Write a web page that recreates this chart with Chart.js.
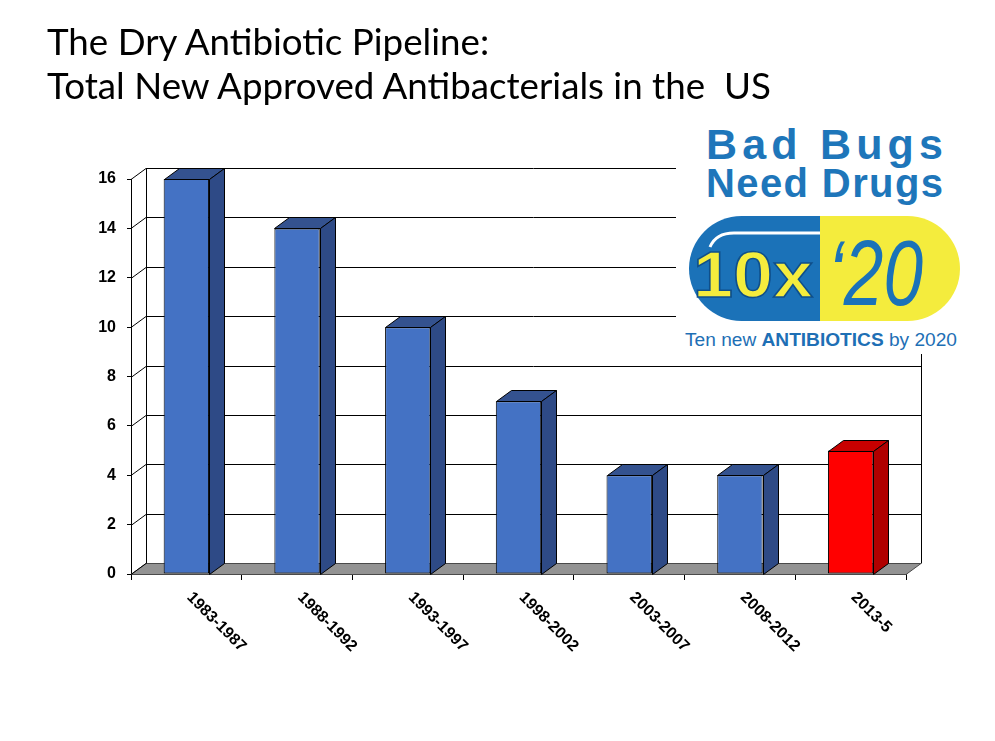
<!DOCTYPE html>
<html>
<head>
<meta charset="utf-8">
<script src="https://cdn.jsdelivr.net/npm/chart.js@4.4.1/dist/chart.umd.min.js"></script>
<style>
html, body { margin: 0; padding: 0; background: #fff; }
#wrap { position: relative; width: 995px; height: 741px; overflow: hidden; }
#chart { position: absolute; left: 0; top: 0; }
.title { position: absolute; left: 47px; font-family: Lato, sans-serif; font-weight: 400; line-height: 1; color: #000; white-space: pre; }
#logo { position: absolute; left: 676px; top: 118px; }
</style>
</head>
<body>
<div id="wrap">
  <canvas id="chart" width="995" height="741"></canvas>
  <div class="title" id="t1">The Dry Antibiotic Pipeline:</div>
  <div class="title" id="t2">Total New Approved Antibacterials in the  US</div>
  <svg id="logo" width="290" height="236" viewBox="0 0 290 236">
    <defs>
      <clipPath id="pill"><rect x="13" y="98" width="271" height="105" rx="52.5" ry="52.5"/></clipPath>
    </defs>
    <rect x="0" y="0" width="290" height="236" fill="#fff"/>
    <text x="30" y="41" textLength="237" lengthAdjust="spacing" font-family="Liberation Sans" font-weight="bold" font-size="43" fill="#1e76ba">Bad Bugs</text>
    <text x="30" y="79" textLength="237" lengthAdjust="spacing" font-family="Liberation Sans" font-weight="bold" font-size="40" fill="#1e76ba">Need Drugs</text>
    <g clip-path="url(#pill)">
      <rect x="13" y="98" width="131" height="105" fill="#1b72b8"/>
      <rect x="144" y="98" width="140" height="105" fill="#f4ec3d"/>
    </g>
    <path d="M34 129 Q40 115 58 115 L144 115" fill="none" stroke="#fff" stroke-width="3"/>
    <text x="17" y="179" textLength="120" lengthAdjust="spacingAndGlyphs" font-family="Liberation Sans" font-weight="bold" font-size="64" fill="#f4ec3d" stroke="#0f4f8a" stroke-width="1.5">10x</text>
    <text x="152" y="187" textLength="95" lengthAdjust="spacingAndGlyphs" font-family="Liberation Sans" font-style="italic" font-size="92" fill="#1b72b8">‘20</text>
    <text x="9" y="228" textLength="272" lengthAdjust="spacingAndGlyphs" font-family="Liberation Sans" font-size="18" fill="#1e6fb5">Ten new <tspan font-weight="bold">ANTIBIOTICS</tspan> by 2020</text>
  </svg>
</div>
<script>
// --- DATA ---
const categories = ['1983-1987', '1988-1992', '1993-1997', '1998-2002', '2003-2007', '2008-2012', '2013-5'];
const approvals = [16, 14, 10, 7, 4, 4, 5];
const yTicks = [0, 2, 4, 6, 8, 10, 12, 14, 16];
const highlightIndex = 6; // last period is shown in red

// --- TITLE (fit Lato to the original width) ---
(function fitTitle() {
    const t1 = document.getElementById('t1');
    const t2 = document.getElementById('t2');
    let fs = 39;
    t1.style.fontSize = t2.style.fontSize = fs + 'px';
    const w = t2.getBoundingClientRect().width;
    fs = fs * 724 / w;
    t1.style.fontSize = t2.style.fontSize = fs + 'px';
    t1.style.top = (56 - 0.887 * fs) + 'px';
    t2.style.top = (100 - 0.887 * fs) + 'px';
})();

// --- 3D LOOK ---
const DX = 15, DY = -11;
const front = approvals.map((v, i) => i === highlightIndex ? '#ff0000' : '#4472c4');
const sideCol = approvals.map((v, i) => i === highlightIndex ? '#b00000' : '#2e4a86');
const topCol = approvals.map((v, i) => i === highlightIndex ? '#c80000' : '#34528f');

function poly(ctx, pts, fill, stroke) {
    ctx.beginPath();
    ctx.moveTo(pts[0][0], pts[0][1]);
    for (let i = 1; i < pts.length; i++) ctx.lineTo(pts[i][0], pts[i][1]);
    ctx.closePath();
    if (fill) { ctx.fillStyle = fill; ctx.fill(); }
    if (stroke) { ctx.strokeStyle = stroke; ctx.lineWidth = 1; ctx.stroke(); }
}

const wallPlugin = {
    id: 'walls',
    beforeDatasetsDraw(chart) {
        const ctx = chart.ctx;
        const area = chart.chartArea;
        const y = chart.scales.y;
        const L = area.left, R = area.right;
        const y0 = Math.round(y.getPixelForValue(0)) + 0.5;
        const yTop = Math.round(y.getPixelForValue(16)) + 0.5;
        ctx.save();
        // floor
        poly(ctx, [[L, y0], [R, y0], [R + DX, y0 + DY], [L + DX, y0 + DY]], '#939393', '#4a4a4a');
        // back wall gridlines + left wall diagonals
        ctx.strokeStyle = '#000';
        ctx.lineWidth = 1;
        yTicks.forEach(v => {
            const py = Math.round(y.getPixelForValue(v)) + 0.5;
            ctx.beginPath();
            ctx.moveTo(L, py);
            ctx.lineTo(L + DX, py + DY);
            if (v > 0) ctx.lineTo(R + DX, py + DY);
            ctx.stroke();
        });
        // back wall verticals
        ctx.beginPath();
        ctx.moveTo(L + DX + 0.5, yTop + DY);
        ctx.lineTo(L + DX + 0.5, y0 + DY);
        ctx.moveTo(R + DX + 0.5, yTop + DY);
        ctx.lineTo(R + DX + 0.5, y0 + DY);
        ctx.stroke();
        ctx.restore();
    },
    afterDatasetsDraw(chart) {
        const ctx = chart.ctx;
        const meta = chart.getDatasetMeta(0);
        ctx.save();
        meta.data.forEach((bar, i) => {
            const p = bar.getProps(['x', 'y', 'width', 'base'], true);
            const l = Math.round(p.x - p.width / 2) + 0.5;
            const r = Math.round(p.x + p.width / 2) + 0.5;
            const t = Math.round(p.y) + 0.5;
            const b = Math.round(p.base) + 0.5;
            poly(ctx, [[l, t], [r, t], [r + DX, t + DY], [l + DX, t + DY]], topCol[i], '#000');
            poly(ctx, [[r, t], [r + DX, t + DY], [r + DX, b + DY], [r, b]], sideCol[i], '#000');
        });
        // rotated category labels
        const x = chart.scales.x;
        ctx.fillStyle = '#000';
        ctx.font = 'bold 16px "Liberation Sans", Arial, sans-serif';
        ctx.textAlign = 'left';
        ctx.textBaseline = 'middle';
        categories.forEach((c, i) => {
            ctx.save();
            ctx.translate(x.getPixelForValue(i) + 3, chart.chartArea.bottom + 21);
            ctx.rotate(Math.PI / 4);
            ctx.fillText(c, 0, 0);
            ctx.restore();
        });
        ctx.restore();
    }
};

new Chart(document.getElementById('chart'), {
    type: 'bar',
    data: {
        labels: categories,
        datasets: [{
            data: approvals,
            backgroundColor: front,
            borderColor: '#000',
            borderWidth: 1,
            borderSkipped: false,
            barPercentage: 0.41,
            categoryPercentage: 1
        }]
    },
    options: {
        responsive: false,
        animation: false,
        layout: { padding: { left: 0, right: 89, top: 179, bottom: 0 } },
        plugins: { legend: { display: false }, tooltip: { enabled: false } },
        scales: {
            x: {
                grid: { offset: true, drawOnChartArea: false, drawTicks: true, tickLength: 6, color: '#000' },
                border: { display: true, color: '#000' },
                ticks: { display: false },
                afterFit(s) { s.height = 167; }
            },
            y: {
                min: 0,
                max: 16,
                afterBuildTicks(s) { s.ticks = yTicks.map(v => ({ value: v })); },
                grid: { drawOnChartArea: false, tickLength: 4, color: '#000' },
                border: { display: true, color: '#000' },
                ticks: {
                    color: '#000',
                    padding: 11,
                    font: { family: 'Liberation Sans', weight: 'bold', size: 16 }
                },
                afterFit(s) { s.width = 131; }
            }
        }
    },
    plugins: [wallPlugin]
});
</script>
</body>
</html>
